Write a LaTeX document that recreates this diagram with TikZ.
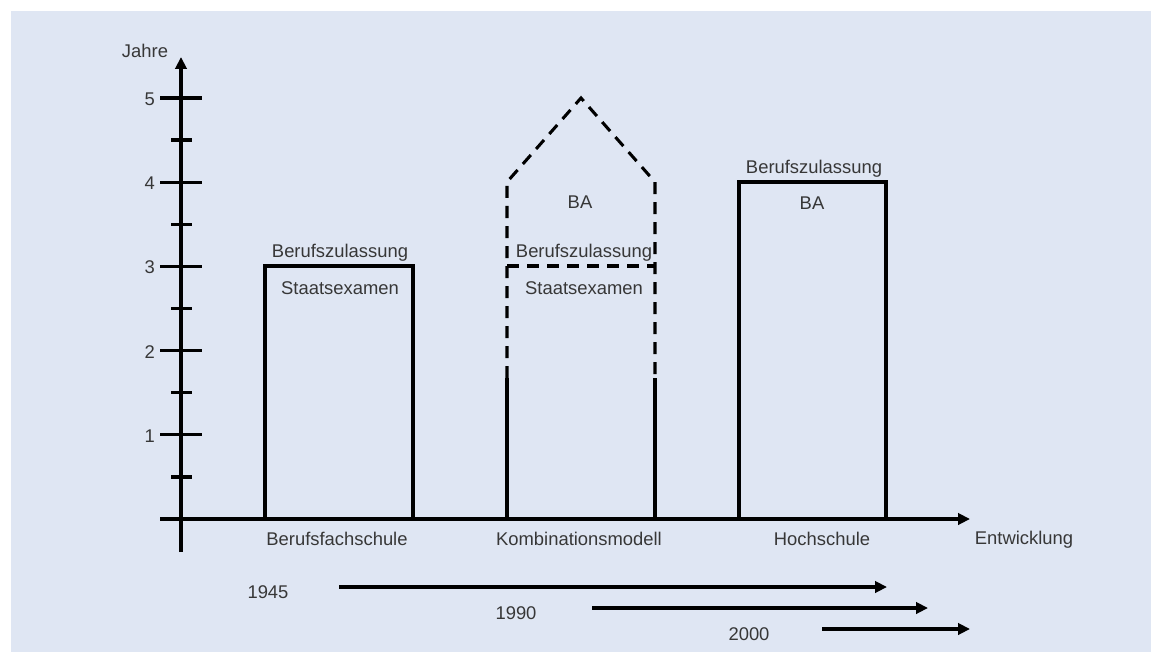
\documentclass[tikz,border=0pt]{standalone}
\usepackage{fontspec}
\setmainfont{Liberation Sans}
\usepackage{tikz}
\usetikzlibrary{arrows.meta,positioning}
\definecolor{bgblue}{RGB}{223,230,243}
\definecolor{txtgray}{RGB}{55,55,55}

\begin{document}
\begin{tikzpicture}[x=0.75pt,y=-0.75pt,
    axis/.style={line width=2.4pt},
    box/.style={line width=2.7pt},
    dbox/.style={line width=2.3pt, dash pattern=on 9pt off 6pt},
    lbl/.style={text=txtgray, font=\fontsize{13.8}{16}\selectfont, inner sep=0pt},
    arr/.style={-{Triangle[length=9pt,width=8.5pt]}}]

    % background
    \useasboundingbox (0,0) rectangle (1151,652);
    \fill[white] (0,0) rectangle (1151,652);
    \fill[bgblue] (11,11) rectangle (1151,652);

    % axes
    \coordinate (ybot) at (181,552);
    \coordinate (ytop) at (181,57);
    \coordinate (xleft) at (160,519);
    \coordinate (xright) at (970,519);
    \draw[axis,arr] (ybot) -- (ytop);
    \draw[axis,arr] (xleft) -- (xright);
    \node[lbl] (jahre) at (145,51) {Jahre};
    \node[lbl] (entw) at (1024,540) {Entwicklung};

    \foreach \j in {1,...,5} {
        \draw[axis] (160,{519-84.2*\j}) -- (202,{519-84.2*\j});
        \node[lbl,anchor=east] (y\j) at (155,{520-84.2*\j}) {\j};
    }
    \foreach \j in {0.5,1.5,...,4.5}
        \draw[axis] (171,{519-84.2*\j}) -- (192,{519-84.2*\j});

    % Berufsfachschule
    \draw[box] (265,519) -- (265,266) -- (413,266) -- (413,519);
    \node[lbl] (bfs-zul) at (340,253) {Berufszulassung};
    \node[lbl] (bfs-ex) at (340,288) {Staatsexamen};
    \node[lbl] (bfs) at (337,539) {Berufsfachschule};

    % Kombinationsmodell
    \draw[box,line width=2.3pt] (507,519) -- (507,378);
    \draw[box,line width=2.3pt] (655,519) -- (655,378);
    \draw[dbox] (507,378) -- (507,182) -- (581,98) -- (655,182) -- (655,378);
    \draw[dbox] (507,266) -- (655,266);
    \node[lbl] (km-ba) at (580,202) {BA};
    \node[lbl] (km-zul) at (584,253) {Berufszulassung};
    \node[lbl] (km-ex) at (584,288) {Staatsexamen};
    \node[lbl] (km) at (579,539) {Kombinationsmodell};

    % Hochschule
    \draw[box] (739,519) -- (739,182) -- (886,182) -- (886,519);
    \node[lbl] (hs-zul) at (814,169) {Berufszulassung};
    \node[lbl] (hs-ba) at (812,203) {BA};
    \node[lbl] (hs) at (822,539) {Hochschule};

    % timelines
    \node[lbl] (t1945) at (268,592) {1945};
    \node[lbl] (t1990) at (516,613) {1990};
    \node[lbl] (t2000) at (749,634) {2000};
    \coordinate (s1945) at (339,587);
    \coordinate (e1945) at (887,587);
    \coordinate (s1990) at (592,608);
    \coordinate (e1990) at (928,608);
    \coordinate (s2000) at (822,629);
    \coordinate (e2000) at (970,629);
    \draw[axis,arr,line width=3pt] (s1945) -- (e1945);
    \draw[axis,arr,line width=3pt] (s1990) -- (e1990);
    \draw[axis,arr,line width=3pt] (s2000) -- (e2000);

\end{tikzpicture}
\end{document}
